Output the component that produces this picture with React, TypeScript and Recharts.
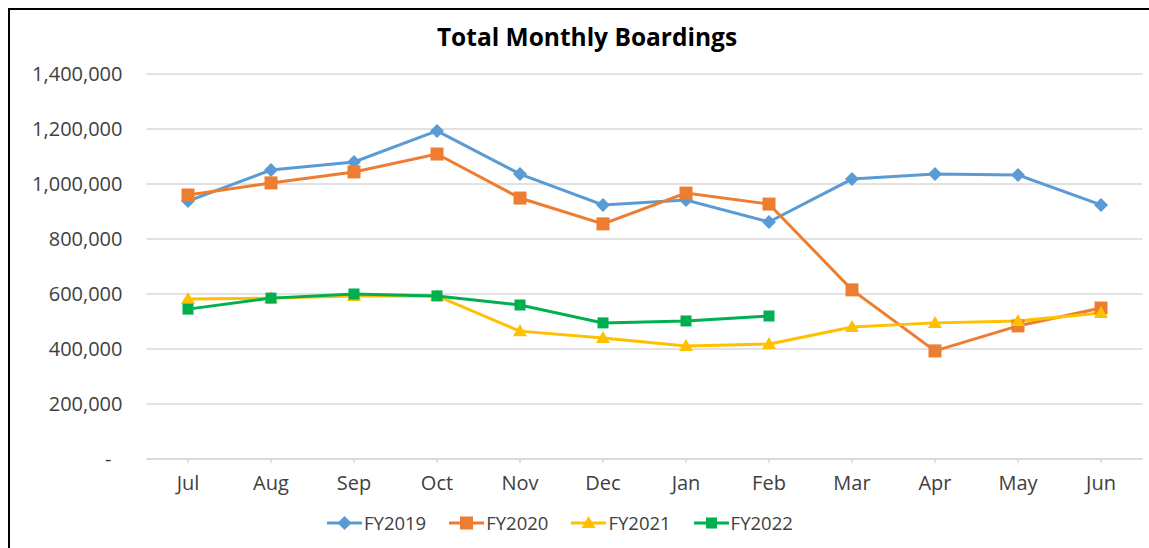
import { LineChart, Line, XAxis, YAxis, CartesianGrid } from "recharts";

const months = ["Jul", "Aug", "Sep", "Oct", "Nov", "Dec", "Jan", "Feb", "Mar", "Apr", "May", "Jun"];
const fy2019 = [938000, 1051000, 1080000, 1193000, 1036000, 924000, 942000, 862000, 1018000, 1036000, 1033000, 924000];
const fy2020 = [960000, 1004000, 1044000, 1109000, 949000, 855000, 967000, 927000, 615000, 393000, 484000, 549000];
const fy2021 = [582000, 585000, 593000, 593000, 465000, 440000, 411000, 418000, 480000, 495000, 502000, 531000];
const fy2022 = [545000, 585000, 600000, 593000, 560000, 495000, 502000, 520000, null, null, null, null];
const yTicks = [0, 200000, 400000, 600000, 800000, 1000000, 1200000, 1400000];

const data = months.map((m, i) => ({
  month: m,
  FY2019: fy2019[i],
  FY2020: fy2020[i],
  FY2021: fy2021[i],
  FY2022: fy2022[i],
}));

const FONT = "'Open Sans', sans-serif";
const TEXT = "#404040";
const GRID = "#d9d9d9";

type Shape = "diamond" | "square" | "triangle" | "smallSquare";

const series: { key: string; color: string; shape: Shape }[] = [
  { key: "FY2019", color: "#5B9BD5", shape: "diamond" },
  { key: "FY2020", color: "#ED7D31", shape: "square" },
  { key: "FY2021", color: "#FFC000", shape: "triangle" },
  { key: "FY2022", color: "#00B050", shape: "smallSquare" },
];

function marker(shape: Shape, cx: number, cy: number, color: string, key?: string | number) {
  if (shape === "diamond") {
    const r = 7;
    return <path key={key} d={`M${cx},${cy - r}L${cx + r},${cy}L${cx},${cy + r}L${cx - r},${cy}Z`} fill={color} />;
  }
  if (shape === "triangle") {
    return <path key={key} d={`M${cx},${cy - 7}L${cx + 7},${cy + 5}L${cx - 7},${cy + 5}Z`} fill={color} />;
  }
  const s = shape === "square" ? 13 : 11;
  return <rect key={key} x={cx - s / 2} y={cy - s / 2} width={s} height={s} fill={color} />;
}

function makeDot(shape: Shape, color: string) {
  return (props: any) => {
    const { cx, cy, index, value } = props;
    if (cx == null || cy == null || value == null) return <g key={index} />;
    return marker(shape, cx, cy, color, index);
  };
}

function YTick(props: any) {
  const { x, y, payload } = props;
  const v = payload.value as number;
  return (
    <text x={v === 0 ? x - 11 : x} y={y} dy="0.35em" textAnchor="end" fill={TEXT} fontSize={20} fontFamily={FONT}>
      {v === 0 ? "-" : v.toLocaleString("en-US")}
    </text>
  );
}

export default function App() {
  return (
    <div
      style={{
        position: "fixed",
        left: 8,
        top: 8,
        width: 1139,
        height: 538,
        borderLeft: "2px solid #000",
        borderTop: "2px solid #000",
        background: "#fff",
        fontFamily: FONT,
        overflow: "hidden",
      }}
    >
      <div
        style={{
          position: "absolute",
          left: 377,
          width: 400,
          top: 10,
          textAlign: "center",
          fontSize: 24.5,
          fontWeight: 700,
          color: "#000",
        }}
      >
        Total Monthly Boardings
      </div>
      <LineChart width={1139} height={538} data={data} margin={{ top: 64, right: 6.5, bottom: 49, left: 0 }}>
        <CartesianGrid vertical={false} stroke={GRID} strokeWidth={1.5} />
        <XAxis
          dataKey="month"
          height={40}
          padding={{ left: 41.5, right: 41.5 }}
          axisLine={{ stroke: GRID, strokeWidth: 1.5 }}
          tickLine={{ stroke: GRID, strokeWidth: 1.5 }}
          tickSize={4}
          tickMargin={13}
          interval={0}
          tick={{ fill: TEXT, fontSize: 20, fontFamily: FONT }}
        />
        <YAxis
          width={136.5}
          domain={[0, 1400000]}
          ticks={yTicks}
          axisLine={false}
          tickLine={false}
          tickSize={6}
          tickMargin={18}
          tick={<YTick />}
          interval={0}
        />
        {series.map((s) => (
          <Line
            key={s.key}
            dataKey={s.key}
            stroke={s.color}
            strokeWidth={3}
            dot={makeDot(s.shape, s.color)}
            activeDot={false}
            isAnimationActive={false}
            connectNulls={false}
          />
        ))}
      </LineChart>
      <div
        style={{
          position: "absolute",
          left: 317,
          top: 500,
          display: "flex",
          alignItems: "center",
          gap: 23,
          fontSize: 18.5,
          color: TEXT,
        }}
      >
        {series.map((s) => (
          <div key={s.key} style={{ display: "flex", alignItems: "center", gap: 2 }}>
            <svg width={35} height={16}>
              <line x1={0} y1={8} x2={35} y2={8} stroke={s.color} strokeWidth={3} />
              {marker(s.shape, 17.5, 8, s.color)}
            </svg>
            <span>{s.key}</span>
          </div>
        ))}
      </div>
    </div>
  );
}
